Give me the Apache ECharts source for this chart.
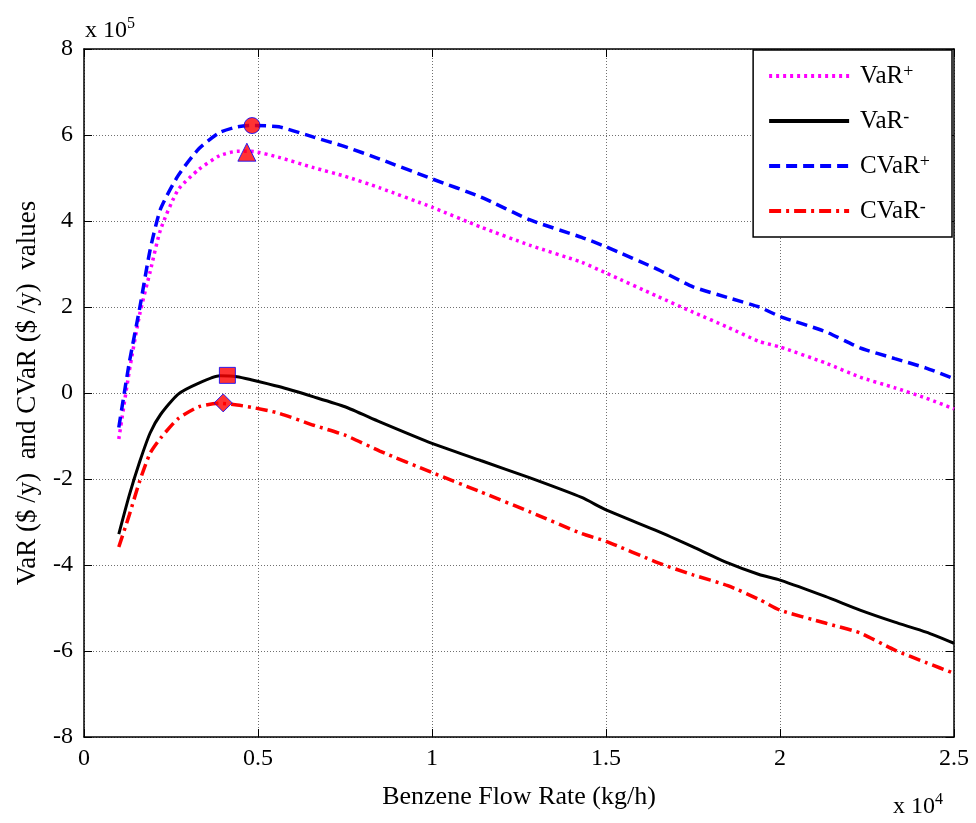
<!DOCTYPE html>
<html><head><meta charset="utf-8">
<script src="https://cdn.jsdelivr.net/npm/echarts@6/dist/echarts.min.js"></script>
<style>html,body{margin:0;padding:0;background:#fff}#c{width:976px;height:823px}</style>
</head><body><div id="c"></div>
<script>
// x in units of 10^4 kg/h, y in units of 10^5 $/y
var flow = [0.1,0.13,0.16,0.19,0.22,0.27,0.33,0.39,0.44,0.48,0.56,0.66,0.75,0.85,1.0,1.14,1.28,1.43,1.5,1.65,1.75,1.85,1.94,2.0,2.13,2.23,2.33,2.42,2.5];
var varPlus  = [-1.07,0.5,1.83,2.82,3.8,4.72,5.2,5.52,5.62,5.62,5.48,5.24,5.04,4.77,4.32,3.86,3.44,3.04,2.79,2.24,1.88,1.53,1.2,1.07,0.7,0.37,0.12,-0.12,-0.37];
var varMinus = [-3.28,-2.38,-1.6,-0.93,-0.5,-0.03,0.23,0.4,0.38,0.31,0.15,-0.09,-0.32,-0.67,-1.17,-1.57,-1.97,-2.43,-2.72,-3.22,-3.58,-3.95,-4.22,-4.35,-4.73,-5.05,-5.33,-5.56,-5.82];
var cvarPlus = [-0.8,0.7,1.97,3.33,4.28,5.05,5.68,6.06,6.19,6.22,6.19,5.95,5.73,5.44,4.98,4.56,4.03,3.62,3.4,2.87,2.47,2.22,2.0,1.78,1.43,1.05,0.8,0.58,0.33];
var cvarMinus= [-3.58,-2.84,-2.05,-1.4,-1.05,-0.6,-0.32,-0.24,-0.28,-0.33,-0.47,-0.75,-0.98,-1.35,-1.85,-2.3,-2.76,-3.27,-3.45,-3.95,-4.23,-4.48,-4.8,-5.05,-5.35,-5.58,-5.98,-6.27,-6.52];
// optimum markers [x, y]
var optCvarPlus  = [0.483, 6.22];
var optVarPlus   = [0.468, 5.6];
var optVarMinus  = [0.412, 0.41];
var optCvarMinus = [0.4, -0.23];
var xTicks = [0, 0.5, 1, 1.5, 2, 2.5];
var yTicks = [-8,-6,-4,-2,0,2,4,6,8];

function pairs(xs, ys){ return xs.map(function(x,i){ return [x, ys[i]]; }); }
var FONT = '"Liberation Serif","Times New Roman",serif';
var chart = echarts.init(document.getElementById('c'), null, {renderer:'canvas'});
function lineSeries(name, ys, color, type, width){
  return {name:name, type:'line', data:pairs(flow, ys), symbol:'none', smooth:0.2,
    lineStyle:{color:color, width:width, type:type}, itemStyle:{color:color}, z:3};
}
function marker(sym, pt, size){
  return {type:'scatter', data:[pt], symbol:sym, symbolSize:size,
    itemStyle:{color:'#ff0000', borderColor:'#0000ff', borderWidth:1}, z:5, silent:true};
}
var supRich = {fontFamily:FONT, fontSize:16, color:'#000', verticalAlign:'top', padding:[0,0,14,0]};
var option = {
  backgroundColor:'#fff',
  animation:false,
  grid:{left:84, right:22, top:49, bottom:86, show:false, containLabel:false, outerBoundsMode:'none'},
  legend:{
    data:['VaR+','VaR-','CVaR+','CVaR-'],
    right:24, top:50, orient:'vertical',
    backgroundColor:'#fff', borderColor:'#000', borderWidth:1.5,
    padding:[13,22,13,14], itemGap:19, itemWidth:80, itemHeight:14,
    itemStyle:{opacity:0},
    lineStyle:{width:4},
    formatter:function(n){
      if(n==='VaR+') return 'VaR{s|+}';
      if(n==='VaR-') return 'VaR{s|-}';
      if(n==='CVaR+') return 'CVaR{s|+}';
      return 'CVaR{s|-}';
    },
    textStyle:{fontFamily:FONT, fontSize:25, lineHeight:26, color:'#000', padding:[0,0,0,6],
      rich:{s:{fontFamily:FONT, fontSize:18, color:'#000', verticalAlign:'top', padding:[0,0,14,0]}}}
  },
  xAxis:[{
    type:'value', min:0, max:2.5, interval:0.5, position:'bottom',
    name:'Benzene Flow Rate (kg/h)', nameLocation:'middle', nameGap:47,
    nameTextStyle:{fontFamily:FONT, fontSize:26, color:'#000'},
    axisLine:{show:true, onZero:false, lineStyle:{color:'#000', width:1.5}},
    axisTick:{show:true, inside:true, length:8, lineStyle:{color:'#000'}},
    axisLabel:{fontFamily:FONT, fontSize:24, color:'#000', margin:10,
      formatter:function(v){ return String(v); }},
    splitLine:{show:true, lineStyle:{color:'#707070', width:1, type:[1,2]}}
  },{
    type:'value', min:0, max:2.5, interval:0.5, position:'top',
    axisLine:{show:true, onZero:false, lineStyle:{color:'#000', width:1.5}},
    axisTick:{show:true, inside:true, length:8, lineStyle:{color:'#000'}},
    axisLabel:{show:false}, splitLine:{show:false}
  }],
  yAxis:[{
    type:'value', min:-8, max:8, interval:2, position:'left',
    name:'VaR ($ /y)  and CVaR ($ /y)  values', nameLocation:'middle', nameGap:43, nameRotate:90,
    nameTextStyle:{fontFamily:FONT, fontSize:27, color:'#000'},
    axisLine:{show:true, onZero:false, lineStyle:{color:'#000', width:1.5}},
    axisTick:{show:true, inside:true, length:8, lineStyle:{color:'#000'}},
    axisLabel:{fontFamily:FONT, fontSize:24, color:'#000', margin:11},
    splitLine:{show:true, lineStyle:{color:'#707070', width:1, type:[1,2]}}
  },{
    type:'value', min:-8, max:8, interval:2, position:'right',
    axisLine:{show:true, onZero:false, lineStyle:{color:'#000', width:1.5}},
    axisTick:{show:true, inside:true, length:8, lineStyle:{color:'#000'}},
    axisLabel:{show:false}, splitLine:{show:false}
  }],
  graphic:[
    {type:'text', left:85, top:16, style:{text:'x 10{s|5}', fontFamily:FONT, fontSize:24, fill:'#000',
      rich:{s:supRich}}},
    {type:'text', left:893, top:792, style:{text:'x 10{s|4}', fontFamily:FONT, fontSize:24, fill:'#000',
      rich:{s:supRich}}}
  ],
  series:[
    lineSeries('VaR+', varPlus, '#ff00ff', [3,4], 3.5),
    lineSeries('VaR-', varMinus, '#000000', 'solid', 3),
    lineSeries('CVaR+', cvarPlus, '#0000ff', [11,6], 3.5),
    lineSeries('CVaR-', cvarMinus, '#ff0000', [12,5,3,5], 3.5),
    marker('circle', optCvarPlus, 16),
    marker('triangle', optVarPlus, 18),
    marker('rect', optVarMinus, 16),
    marker('diamond', optCvarMinus, 18)
  ]
};
chart.setOption(option);
</script></body></html>
